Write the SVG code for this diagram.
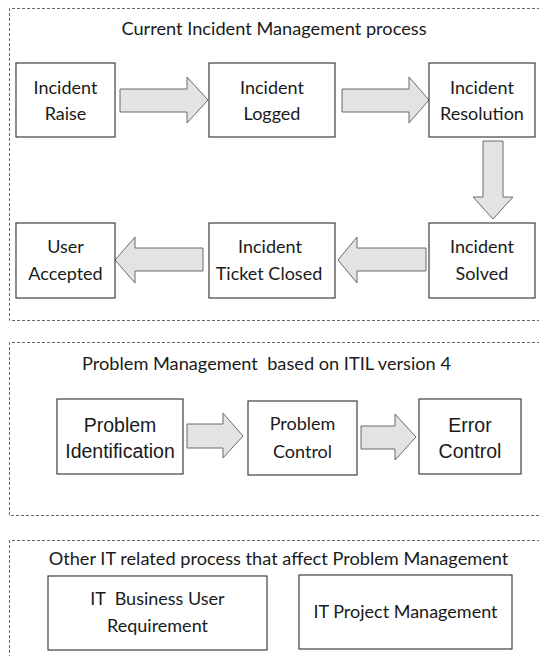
<svg xmlns="http://www.w3.org/2000/svg" width="539" height="656" viewBox="0 0 539 656">
<style>
.frame{fill:none;stroke:#666;stroke-width:1;stroke-dasharray:3,2}
.box{fill:#fff;stroke:#404040;stroke-width:1.2}
.arr{fill:#e3e3e3;stroke:#6a6a6a;stroke-width:1}
.t{font-family:Lato,"Liberation Sans",sans-serif;font-size:18px;fill:#1a1a1a;text-anchor:middle}
.a{font-family:"Liberation Sans",Arial,sans-serif;font-size:19.5px;fill:#1a1a1a;text-anchor:middle}
.h{font-family:Lato,"Liberation Sans",sans-serif;font-size:18.2px;fill:#1a1a1a;text-anchor:middle}
</style>
<rect width="539" height="656" fill="#fff"/>
<g id="frames">
<path class="frame" d="M545,8.5 H9.5 V320.5 H545"/>
<path class="frame" d="M545,342.5 H9.5 V515.5 H545"/>
<path class="frame" d="M545,540.5 H9.5 V660"/>
</g>
<g id="titles">
<text class="h" x="274" y="35">Current Incident Management process</text>
<text class="h" x="266.5" y="370" xml:space="preserve">Problem Management  based on ITIL version 4</text>
<text class="h" x="278.5" y="565">Other IT related process that affect Problem Management</text>
</g>
<g id="connectors">
<polygon class="arr" points="120,89 187,89 187,77 208,100 187,123 187,112 120,112"/>
<polygon class="arr" points="342,89 409,89 409,77 429,100 409,123 409,112 342,112"/>
<polygon class="arr" points="483,141 503,141 503,197 513,197 493,219 473,197 483,197"/>
<polygon class="arr" points="426,248 357,248 357,237 338,260 357,283 357,271 426,271"/>
<polygon class="arr" points="203,248 135,248 135,237 115,260 135,283 135,271 203,271"/>
<polygon class="arr" points="187,424 223,424 223,413 243,436 223,458 223,448 187,448"/>
<polygon class="arr" points="361,426 395,426 395,414 416,437 395,460 395,449 361,449"/>
</g>
<g id="incident-raise">
<rect class="box" x="16" y="63" width="99" height="74"/>
<text class="t" x="65.5" y="94">Incident</text>
<text class="t" x="65.5" y="120">Raise</text>
</g>
<g id="incident-logged">
<rect class="box" x="209" y="63" width="126" height="74"/>
<text class="t" x="272" y="94">Incident</text>
<text class="t" x="272" y="120">Logged</text>
</g>
<g id="incident-resolution">
<rect class="box" x="429" y="63" width="106" height="74"/>
<text class="t" x="482" y="94">Incident</text>
<text class="t" x="482" y="120">Resolution</text>
</g>
<g id="user-accepted">
<rect class="box" x="16" y="223" width="99" height="75"/>
<text class="t" x="65.5" y="253">User</text>
<text class="t" x="65.5" y="280">Accepted</text>
</g>
<g id="incident-ticket-closed">
<rect class="box" x="209" y="223" width="126" height="75"/>
<text class="t" x="270" y="253">Incident</text>
<text class="t" x="269" y="280">Ticket Closed</text>
</g>
<g id="incident-solved">
<rect class="box" x="429" y="223" width="106" height="75"/>
<text class="t" x="482" y="253">Incident</text>
<text class="t" x="482" y="280">Solved</text>
</g>
<g id="problem-identification">
<rect class="box" x="57" y="399" width="126" height="75"/>
<text class="a" x="120" y="432">Problem</text>
<text class="a" x="120" y="458">Identification</text>
</g>
<g id="problem-control">
<rect class="box" x="248" y="401" width="109" height="74"/>
<text class="t" x="302.5" y="430">Problem</text>
<text class="t" x="302.5" y="458">Control</text>
</g>
<g id="error-control">
<rect class="box" x="419" y="399" width="102" height="75"/>
<text class="a" x="470" y="432">Error</text>
<text class="a" x="470" y="458">Control</text>
</g>
<g id="it-business-user-requirement">
<rect class="box" x="48" y="576" width="219" height="74"/>
<text class="t" x="157.5" y="605" xml:space="preserve">IT  Business User</text>
<text class="t" x="157.5" y="632">Requirement</text>
</g>
<g id="it-project-management">
<rect class="box" x="299" y="575" width="213" height="74"/>
<text class="t" x="405.5" y="618">IT Project Management</text>
</g>
</svg>
